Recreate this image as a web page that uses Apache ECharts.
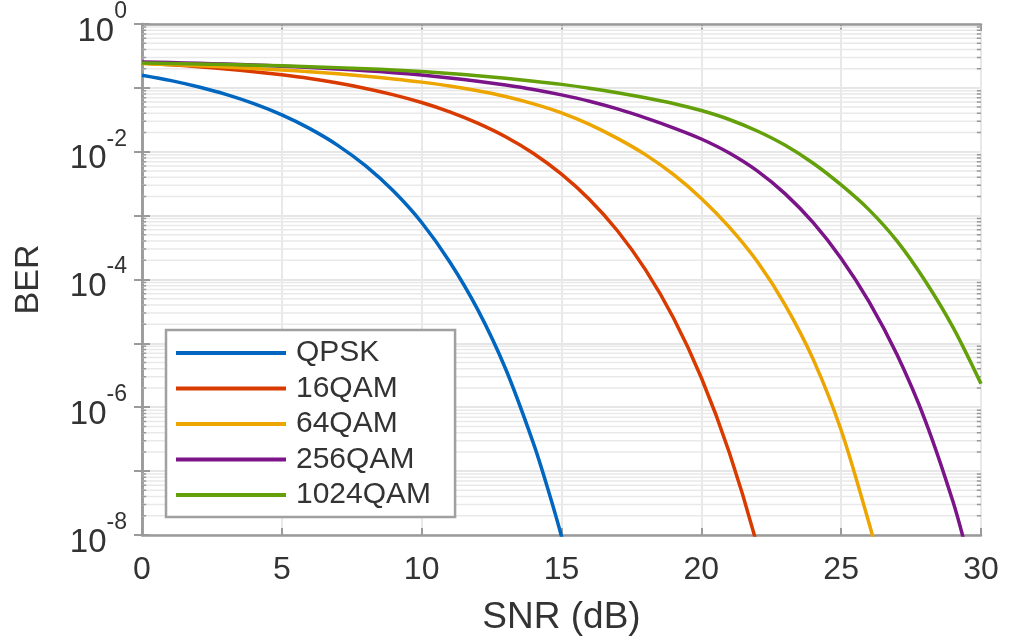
<!DOCTYPE html>
<html>
<head>
<meta charset="utf-8">
<script src="https://cdn.jsdelivr.net/npm/echarts@6/dist/echarts.min.js"></script>
<style>
  html, body { margin: 0; padding: 0; background: #fff; }
  #chart { width: 1011px; height: 641px; }
</style>
</head>
<body>
<div id="chart"></div>
<script>
// ---- data (SNR in dB, BER) ----
const seriesNames = ['QPSK', '16QAM', '64QAM', '256QAM', '1024QAM'];
const seriesColors = ['#0066bf', '#d93a00', '#eda500', '#7a1488', '#64a00a'];

const qpsk = [[0,0.158],[1,0.131],[2,0.104],[3,0.079],[4,0.0565],[5,0.0377],[6,0.023],[7,0.0126],[8,0.006],[9,0.0024],[10,7.8e-4],[11,1.9e-4],[12,3.4e-5],[13,4.0e-6],[14,2.7e-7],[14.5,5.5e-8],[15,9.5e-9],[15.3,2.5e-9]];
const qam16 = [[0,0.245],[1,0.231],[2,0.215],[3,0.198],[4,0.179],[5,0.160],[6,0.140],[7,0.119],[8,0.098],[9,0.0778],[10,0.059],[11,0.0422],[12,0.0281],[13,0.0172],[14,0.0094],[15,0.00446],[16,0.00179],[17,5.8e-4],[18,1.43e-4],[19,2.52e-5],[20,2.9e-6],[21,1.96e-7],[22,6.8e-9],[22.3,1.5e-9]];
const qam64 = [[0,0.240],[1,0.2317],[2,0.2228],[3,0.2128],[4,0.2018],[5,0.1905],[6,0.1786],[7,0.166],[8,0.1524],[9,0.138],[10,0.123],[11,0.1072],[12,0.0902],[13,0.0733],[14,0.0562],[15,0.0407],[16,0.0269],[17,0.0162],[18,0.00902],[19,0.00442],[20,0.00186],[21,6.61e-4],[22,1.91e-4],[23,3.98e-5],[24,5.62e-6],[25,4.37e-7],[26,1.51e-8],[26.5,2.24e-9]];
const qam256 = [[0,0.2541],[1,0.2489],[2,0.2427],[3,0.2355],[4,0.2275],[5,0.2188],[6,0.2089],[7,0.1982],[8,0.1862],[9,0.173],[10,0.1585],[11,0.1429],[12,0.1271],[13,0.1109],[14,0.0944],[15,0.0776],[16,0.0617],[17,0.0468],[18,0.0339],[19,0.0237],[20,0.01585],[21,0.00955],[22,0.00501],[23,0.00219],[24,7.76e-4],[25,2.14e-4],[26,4.47e-5],[27,6.61e-6],[28,6.31e-7],[29,3.31e-8],[29.5,5.37e-9]];
const qam1024 = [[0,0.2455],[1,0.2415],[2,0.2371],[3,0.2323],[4,0.227],[5,0.2213],[6,0.2148],[7,0.2075],[8,0.1995],[9,0.1905],[10,0.1799],[11,0.1679],[12,0.1549],[13,0.1413],[14,0.1274],[15,0.1135],[16,0.0989],[17,0.0841],[18,0.07],[19,0.0569],[20,0.0442],[21,0.032],[22,0.0211],[23,0.0126],[24,0.00661],[25,0.00302],[26,0.00123],[27,3.98e-4],[28,9.55e-5],[29,1.78e-5],[30,2.34e-6]];
const allData = [qpsk, qam16, qam64, qam256, qam1024];

// axis ranges / ticks
const xMin = 0, xMax = 30, xInterval = 5;
const yMin = 1e-8, yMax = 1;
// minor grid positions (2..9 x 10^n) for the log axis
const minorExps = [-8, -7, -6, -5, -4, -3, -2, -1];
const minorMantissas = [2, 3, 4, 5, 6, 7, 8, 9];
const minorTickLen = 0.15; // in dB units along x

// minor grid and minor ticks drawn as broken horizontal segments through the axes' own scales
const minorGridData = [];
const minorTickData = [];
minorExps.forEach(function (e) {
  minorMantissas.forEach(function (m) {
    const v = m * Math.pow(10, e);
    minorGridData.push([xMin, v], [xMax, v], '-');
    minorTickData.push([xMin, v], [xMin + minorTickLen, v], '-');
    minorTickData.push([xMax - minorTickLen, v], [xMax, v], '-');
  });
});

const FONT = 'Liberation Sans, Arial, sans-serif';
const AXIS_COLOR = '#9a9a9a';
const TEXT_COLOR = '#333333';

const series = [{
  name: 'minorGrid',
  type: 'line',
  data: minorGridData,
  silent: true,
  showSymbol: false,
  symbol: 'none',
  connectNulls: false,
  z: 1,
  lineStyle: { color: '#e9e9e9', width: 1.5 },
  emphasis: { disabled: true },
  tooltip: { show: false }
}, {
  name: 'minorTicks',
  type: 'line',
  data: minorTickData,
  silent: true,
  showSymbol: false,
  symbol: 'none',
  connectNulls: false,
  z: 2,
  lineStyle: { color: AXIS_COLOR, width: 1.5 },
  emphasis: { disabled: true },
  tooltip: { show: false }
}].concat(allData.map(function (d, i) {
  return {
    name: seriesNames[i],
    type: 'line',
    data: d,
    xAxisIndex: 0,
    yAxisIndex: 0,
    showSymbol: false,
    symbol: 'none',
    smooth: 0.3,
    clip: true,
    z: 3,
    color: seriesColors[i],
    lineStyle: { width: 3.5, color: seriesColors[i] }
  };
}));

const chart = echarts.init(document.getElementById('chart'), null, { renderer: 'canvas' });
chart.setOption({
  animation: false,
  backgroundColor: '#ffffff',
  textStyle: { fontFamily: FONT },
  grid: { left: 142, right: 30, top: 22, bottom: 99, containLabel: false },
  legend: {
    orient: 'vertical',
    left: 166,
    top: 330,
    data: seriesNames,
    icon: 'rect',
    itemWidth: 110,
    itemHeight: 4,
    itemGap: 5.5,
    padding: [8, 24, 7, 10],
    borderColor: '#a0a0a0',
    borderWidth: 2.5,
    backgroundColor: '#ffffff',
    selectedMode: false,
    textStyle: { fontFamily: FONT, fontSize: 30, lineHeight: 30, color: TEXT_COLOR, padding: [0, 0, 0, 5] }
  },
  xAxis: [{
    type: 'value',
    min: xMin, max: xMax, interval: xInterval,
    name: 'SNR (dB)',
    nameLocation: 'middle',
    nameGap: 64,
    nameTextStyle: { fontFamily: FONT, fontSize: 37, color: TEXT_COLOR },
    axisLine: { show: true, lineStyle: { color: AXIS_COLOR, width: 2.5 } },
    axisTick: { show: true, inside: true, length: 7, lineStyle: { color: AXIS_COLOR, width: 2 } },
    axisLabel: { fontFamily: FONT, fontSize: 32, color: TEXT_COLOR, margin: 19 },
    splitLine: { show: true, lineStyle: { color: '#e8e8e8', width: 2 } }
  }, {
    type: 'value',
    position: 'top',
    min: xMin, max: xMax, interval: xInterval,
    axisLine: { show: true, lineStyle: { color: AXIS_COLOR, width: 2.5 } },
    axisTick: { show: true, inside: true, length: 7, lineStyle: { color: AXIS_COLOR, width: 2 } },
    axisLabel: { show: false },
    splitLine: { show: false }
  }],
  yAxis: [{
    type: 'log',
    logBase: 10,
    min: yMin, max: yMax,
    name: 'BER',
    nameLocation: 'middle',
    nameGap: 96,
    nameTextStyle: { fontFamily: FONT, fontSize: 34, color: TEXT_COLOR },
    axisLine: { show: true, lineStyle: { color: AXIS_COLOR, width: 2.5 } },
    axisTick: { show: true, inside: true, length: 8, lineStyle: { color: AXIS_COLOR, width: 2 } },
    axisLabel: {
      margin: 15,
      formatter: function (v) {
        const e = Math.round(Math.log10(v));
        if (e % 2 !== 0) return '';
        return '{b|10}{s|' + e + '}';
      },
      rich: {
        b: { fontFamily: FONT, fontSize: 33, color: TEXT_COLOR, lineHeight: 48, verticalAlign: 'bottom' },
        s: { fontFamily: FONT, fontSize: 23, color: TEXT_COLOR, lineHeight: 24, verticalAlign: 'top' }
      }
    },
    splitLine: { show: true, lineStyle: { color: '#dedede', width: 1.5 } }
  }, {
    type: 'log',
    logBase: 10,
    position: 'right',
    min: yMin, max: yMax,
    axisLine: { show: true, lineStyle: { color: AXIS_COLOR, width: 2.5 } },
    axisTick: { show: true, inside: true, length: 8, lineStyle: { color: AXIS_COLOR, width: 2 } },
    axisLabel: { show: false },
    splitLine: { show: false }
  }],
  series: series
});
</script>
</body>
</html>
